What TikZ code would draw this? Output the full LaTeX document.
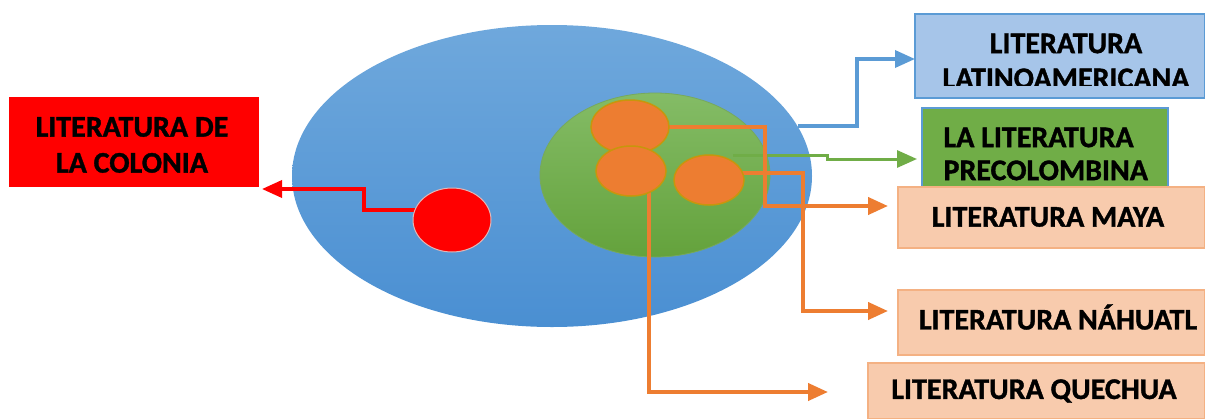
\documentclass[tikz,border=0pt]{standalone}
\usepackage{fontspec}
\setmainfont{Carlito}[BoldFeatures={FakeBold=1.2}]
\usetikzlibrary{shapes.geometric,arrows.meta}
\definecolor{bigtop}{HTML}{6FA8DC}
\definecolor{bigbot}{HTML}{4A8FD2}
\definecolor{grtop}{HTML}{84BC66}
\definecolor{grbot}{HTML}{64A23C}
\definecolor{orfill}{HTML}{ED7D31}
\definecolor{orline}{HTML}{C8960C}
\definecolor{boxblue}{HTML}{A6C5E9}
\definecolor{boxblueb}{HTML}{5B9BD5}
\definecolor{boxgreen}{HTML}{70AD47}
\definecolor{peach}{HTML}{F8CBAD}
\definecolor{peachb}{HTML}{F4B183}
\definecolor{bluearrow}{HTML}{5B9BD5}
\definecolor{greenarrow}{HTML}{70AD47}
\tikzset{
  txt/.style={font=\bfseries\fontsize{30}{35}\selectfont, text=black, align=center},
  boxnode/.style={rectangle, inner sep=0pt, line width=2pt},
  conn/.style={line width=3.5pt, -{Triangle[length=20pt,width=17pt]}},
  orconn/.style={conn, draw=orfill, line width=4pt},
  smallc/.style={ellipse, inner sep=0pt, fill=orfill, draw=orline, line width=1.5pt},
}
\begin{document}
\begin{tikzpicture}[x=1pt,y=-1pt]
\useasboundingbox (0,0) rectangle (1205,418);
\fill[white] (0,0) rectangle (1205,418);
% big ellipse
\node[ellipse, inner sep=0pt, minimum width=520pt, minimum height=302pt, top color=bigtop, bottom color=bigbot] (big) at (552,176) {};
% green ellipse
\node[ellipse, inner sep=0pt, minimum width=230pt, minimum height=164pt, top color=grtop, bottom color=grbot, draw=grtop!90!black, line width=0.8pt] (green) at (655,175) {};
% boxes
\node[boxnode, fill=boxblue, draw=boxblueb, minimum width=290pt, minimum height=84pt] (latam) at (1060,56) {};
\begin{scope}
\clip (915,14) rectangle (1205,85);
\node[txt] (latamt) at (1066,61) {LITERATURA\\LATINOAMERICANA};
\end{scope}
\node[boxnode, fill=boxgreen, draw=boxblueb, minimum width=246pt, minimum height=100pt] (preco) at (1045,158) {};
\node[txt, align=left, anchor=west, font=\bfseries\fontsize{30}{33}\selectfont] (precot) at (940,154) {LA LITERATURA\\PRECOLOMBINA};
\node[boxnode, fill=peach, draw=peachb, minimum width=307pt, minimum height=61pt] (maya) at (1051.5,217.5) {};
\node[txt] at (1048,217) {LITERATURA MAYA};
\node[boxnode, fill=peach, draw=peachb, minimum width=307pt, minimum height=65pt] (nahuatl) at (1051.5,322.5) {};
\node[txt] at (1058,317) {LITERATURA NÁHUATL};
\node[boxnode, fill=peach, draw=peachb, minimum width=337pt, minimum height=56pt] (quechua) at (1036.5,391) {};
\node[txt] at (1034,391) {LITERATURA QUECHUA};
\node[boxnode, fill=red, minimum width=250pt, minimum height=90pt] (colonia) at (134,142) {};
\node[txt, font=\bfseries\fontsize{30}{36}\selectfont] at (132,145) {LITERATURA DE\\LA COLONIA};
% targets
\coordinate (tlat) at (915,59);
\coordinate (tpre) at (917,159);
\coordinate (tmaya) at (888,206);
\coordinate (tnah) at (888,311);
\coordinate (tque) at (828,392);
\coordinate (tcol) at (262,189);
% connectors
\coordinate (bstart) at (798,126);
\draw[conn, draw=bluearrow] (bstart) -- (857,126) |- (tlat);
\coordinate (gstart) at (733,155);
\draw[conn, draw=greenarrow, line width=3pt] (gstart) -- (827,155) |- (tpre);
\coordinate (o1) at (630,127);
\coordinate (o2) at (709,173);
\coordinate (o3) at (649,171);
\draw[orconn] (o1) -- (765,127) |- (tmaya);
\draw[orconn] (o2) -- (803,173) |- (tnah);
\draw[orconn] (o3) |- (tque);
\coordinate (r1) at (452,210);
\draw[conn, draw=red, line width=3.5pt] (r1) -- (364,210) |- (tcol);
% small circles
\node[smallc, minimum width=78pt, minimum height=54pt] (c1) at (630,127) {};
\node[smallc, minimum width=70pt, minimum height=50pt] (c2) at (631,171) {};
\node[smallc, minimum width=70pt, minimum height=50pt] (c3) at (709,180) {};
\node[ellipse, inner sep=0pt, fill=red, draw=gray!60!red!40, line width=1pt, minimum width=78pt, minimum height=64pt] (rc) at (452,220) {};
\end{tikzpicture}
\end{document}
